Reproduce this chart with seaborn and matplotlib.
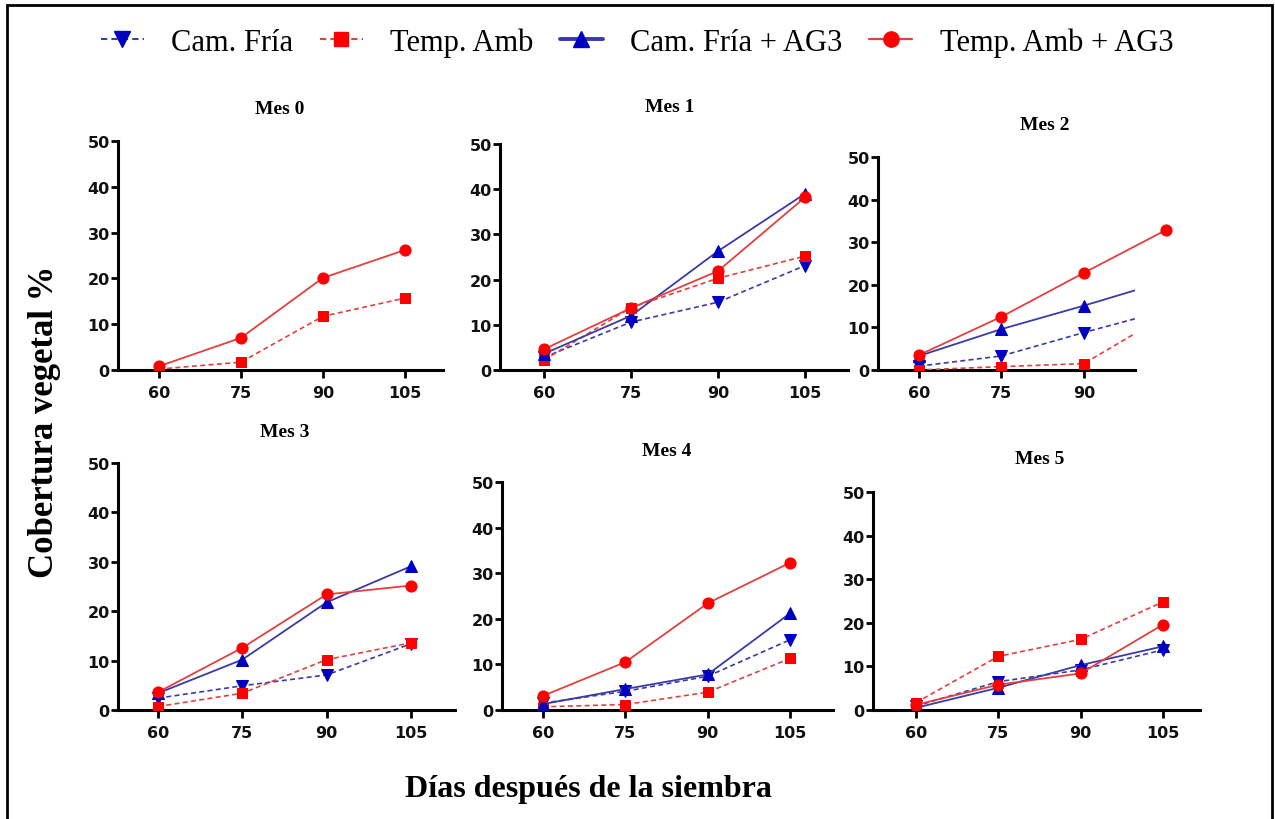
import numpy as np
import pandas as pd
import matplotlib
matplotlib.use("Agg")
import matplotlib.pyplot as plt
from matplotlib.lines import Line2D
from matplotlib.patches import Rectangle
import seaborn as sns

# ---- data -------------------------------------------------------------
dias = [60, 75, 90, 105]
meses = ["Mes 0", "Mes 1", "Mes 2", "Mes 3", "Mes 4", "Mes 5"]

cam_fria = [
    [np.nan, np.nan, np.nan, np.nan],
    [2.8, 10.6, 15.0, 23.1],
    [0.9, 3.3, 8.8, 14.0],
    [2.4, 4.9, 7.1, 13.4],
    [1.5, 4.1, 7.4, 15.4],
    [0.9, 6.5, 9.2, 13.8],
]
temp_amb = [
    [0.2, 1.7, 11.7, 15.7],
    [2.2, 13.8, 20.3, 25.2],
    [0.0, 0.8, 1.5, 12.9],
    [0.7, 3.4, 10.2, 13.6],
    [0.7, 1.2, 3.9, 11.3],
    [1.7, 12.3, 16.2, 24.8],
]
cam_fria_ag3 = [
    [np.nan, np.nan, np.nan, np.nan],
    [3.6, 12.0, 26.3, 39.0],
    [3.3, 9.6, 15.1, 20.9],
    [3.4, 10.2, 21.8, 29.1],
    [1.3, 4.6, 7.8, 21.2],
    [0.5, 5.1, 10.3, 14.6],
]
temp_amb_ag3 = [
    [0.8, 7.0, 20.1, 26.2],
    [4.6, 13.7, 21.9, 38.2],
    [3.5, 12.5, 22.8, 32.9],
    [3.6, 12.6, 23.4, 25.2],
    [3.1, 10.5, 23.4, 32.3],
    [1.2, 5.8, 8.4, 19.6],
]

series_names = ["Cam. Fría", "Temp. Amb", "Cam. Fría + AG3", "Temp. Amb + AG3"]
series_vals = [cam_fria, temp_amb, cam_fria_ag3, temp_amb_ag3]

# ---- styles -----------------------------------------------------------
BLUE_M, BLUE_L = "#0000c0", "#3a3aa8"
RED_M, RED_L = "#ff0000", "#e2403f"
styles = {
    "Cam. Fría": dict(color=BLUE_L, mfc=BLUE_M, mec=BLUE_M, marker="v", ls=(0, (3, 2)), lw=1.2, ms=8),
    "Temp. Amb": dict(color=RED_L, mfc=RED_M, mec=RED_M, marker="s", ls=(0, (3, 2)), lw=1.2, ms=7.5),
    "Cam. Fría + AG3": dict(color=BLUE_L, mfc=BLUE_M, mec=BLUE_M, marker="^", ls="-", lw=1.3, ms=8),
    "Temp. Amb + AG3": dict(color=RED_L, mfc=RED_M, mec=RED_M, marker="o", ls="-", lw=1.3, ms=8),
}

sns.set_theme(style="white")
plt.rcParams["font.family"] = ["DejaVu Sans"]
plt.rcParams["text.color"] = "black"

W, H = 1275, 820
fig = plt.figure(figsize=(W / 100, H / 100), dpi=100)
fig.patch.set_facecolor("white")

# panel boxes in pixels: left, right, top (y=50), bottom (y=0), then x limits
boxes = [
    (118, 443, 142, 371, 52.56, 111.97),
    (500, 848, 145, 371, 52.41, 112.41),
    (878, 1135, 158, 371, 52.55, 99.3),
    (118, 455, 464, 711, 52.88, 112.83),
    (502, 833, 483, 711, 52.53, 112.83),
    (873, 1200, 493, 711, 52.17, 111.74),
]
title_pos = [(280, 110), (670, 108), (1045, 126), (285, 433), (667, 451), (1040, 460)]

for i, (l, r, t, b, xmin, xmax) in enumerate(boxes):
    ax = fig.add_axes([l / W, 1 - b / H, (r - l) / W, (b - t) / H])
    ax.set_facecolor("none")
    for name, vals in zip(series_names, series_vals):
        v = vals[i]
        if np.all(np.isnan(v)):
            continue
        st = styles[name]
        df = pd.DataFrame({"dia": dias, "valor": v})
        sns.lineplot(
            data=df, x="dia", y="valor", ax=ax,
            color=st["color"], marker=st["marker"], markersize=st["ms"],
            markerfacecolor=st["mfc"], markeredgecolor=st["mec"],
            linestyle=st["ls"], linewidth=st["lw"],
            clip_on=(name != "Temp. Amb + AG3") or xmax > 105,
            zorder=3,
        )
    ax.set_xlim(xmin, xmax)
    ax.set_ylim(0, 50)
    ax.set_xticks([d for d in dias if d <= xmax])
    ax.set_yticks([0, 10, 20, 30, 40, 50])
    ax.set_xlabel("")
    ax.set_ylabel("")
    for lab in ax.get_xticklabels() + ax.get_yticklabels():
        lab.set_fontfamily("DejaVu Sans")
        lab.set_fontweight("bold")
        lab.set_fontsize(11.5)
        lab.set_color("#111111")
    ax.spines["top"].set_visible(False)
    ax.spines["right"].set_visible(False)
    for s in ("left", "bottom"):
        ax.spines[s].set_linewidth(2.2)
        ax.spines[s].set_color("black")
    ax.tick_params(axis="y", which="major", direction="out", length=5, width=2.0,
                   color="black", left=True, pad=1)
    ax.tick_params(axis="x", which="major", direction="out", length=6, width=2.0,
                   color="black", bottom=True, pad=5)
    ax.grid(False)
    tx, ty = title_pos[i]
    fig.text(tx / W, 1 - ty / H, meses[i], ha="center", va="center", color="black",
             fontfamily="Liberation Serif", fontweight="bold", fontsize=14)

# shared axis labels
fig.text(45 / W, 1 - 422 / H, "Cobertura vegetal %", rotation=90, ha="center", va="center",
         color="black", fontfamily="Liberation Serif", fontweight="bold", fontsize=25)
fig.text(588 / W, 1 - 790 / H, "Días después de la siembra", ha="center", va="center",
         color="black", fontfamily="Liberation Serif", fontweight="bold", fontsize=23)

# legend
handles = []
for name in series_names:
    st = styles[name]
    handles.append(Line2D([0], [0], color=st["color"], marker=st["marker"], markersize=st["ms"] + 3,
                          markerfacecolor=st["mfc"], markeredgecolor=st["mec"],
                          linestyle=st["ls"], linewidth=st["lw"] + (1.5 if name == "Cam. Fría + AG3" else 0.3)))
leg = fig.legend(handles, series_names, loc="center", bbox_to_anchor=(637 / W, 1 - 43 / H),
                 ncol=4, frameon=False, handlelength=1.4, handletextpad=0.9, columnspacing=0.87,
                 prop={"family": "Liberation Serif", "size": 22})
for txt in leg.get_texts():
    txt.set_color("black")

# outer frame
fig.patches.append(Rectangle((7 / W, -0.05), (1272 - 7) / W, 1 - 6 / H + 0.05,
                             transform=fig.transFigure, fill=False, edgecolor="black",
                             linewidth=2.0, zorder=10))

fig.savefig("out.png", dpi=100, facecolor="white")
